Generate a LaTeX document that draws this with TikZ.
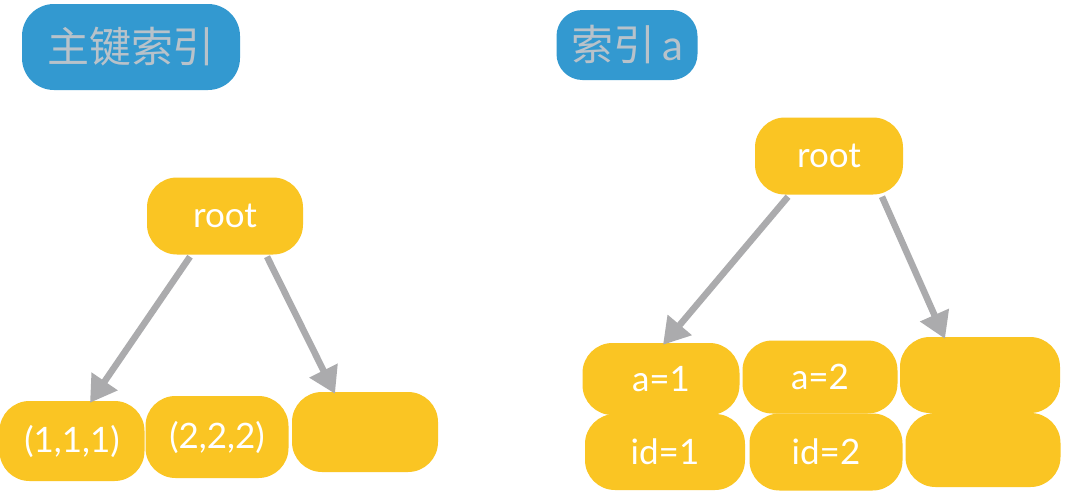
\documentclass[tikz,border=0pt]{standalone}
\usepackage{fontspec}
\setmainfont{Lato}
\newfontfamily\cjk{Noto Sans CJK SC}
\usetikzlibrary{arrows.meta}
\definecolor{yel}{HTML}{FAC523}
\definecolor{blu}{HTML}{3399D0}
\definecolor{ttxt}{HTML}{B8C2CA}
\definecolor{arr}{HTML}{ABABAD}
\tikzset{
  title/.style={fill=blu, rounded corners=32pt, text=ttxt, inner sep=0pt, font=\cjk\fontsize{42}{46}\selectfont},
  cell/.style={fill=yel, rounded corners=30pt, text=white, inner sep=0pt, font=\fontsize{35}{40}\selectfont},
  link/.style={draw=arr, line width=6.5pt, -{Triangle[length=26pt,width=30pt]}},
}
\begin{document}
\begin{tikzpicture}[x=1pt,y=-1pt]
\useasboundingbox[fill=white] (0,0) rectangle (1080,491);
% left tree
\node[title, minimum width=218pt, minimum height=86pt] (t1) at (131,47) {主键索引};
\node[cell, minimum width=156pt, minimum height=77pt] (r1) at (225,216) {root};
\node[cell, minimum width=145pt, minimum height=80pt] (l1) at (72,441) {(1,1,1)};
\node[cell, minimum width=143pt, minimum height=82pt] (l2) at (217,437) {(2,2,2)};
\node[cell, minimum width=146pt, minimum height=80pt] (l3) at (365,432) {};
\draw[link] ([xshift=-35pt,yshift=-2pt]r1.south) -- ([xshift=18pt,yshift=-2pt]l1.north);
\draw[link] ([xshift=42pt,yshift=-2pt]r1.south) -- ([xshift=-30pt,yshift=-2pt]l3.north);
% right tree
\node[title, minimum width=141pt, minimum height=70pt, rounded corners=26pt] (t2) at (627,45) {索引\,{\fontspec{Lato}a}};
\node[cell, minimum width=148pt, minimum height=77pt] (r2) at (829,156) {root};
\node[cell, minimum width=160pt, minimum height=76pt] (i1) at (665,452) {id=1};
\node[cell, minimum width=153pt, minimum height=77pt] (i2) at (826,452) {id=2};
\node[cell, minimum width=155pt, minimum height=74pt] (i3) at (983,450) {};
\node[cell, minimum width=157pt, minimum height=72pt] (a1) at (661,379) {a=1};
\node[cell, minimum width=155pt, minimum height=73pt] (a2) at (820,377) {a=2};
\node[cell, minimum width=160pt, minimum height=76pt] (a3) at (980,375) {};
\draw[link] ([xshift=-41pt,yshift=-2pt]r2.south) -- ([xshift=2pt,yshift=-2pt]a1.north);
\draw[link] ([xshift=53pt,yshift=-2pt]r2.south) -- ([xshift=-35pt,yshift=-2pt]a3.north);
\end{tikzpicture}
\end{document}
